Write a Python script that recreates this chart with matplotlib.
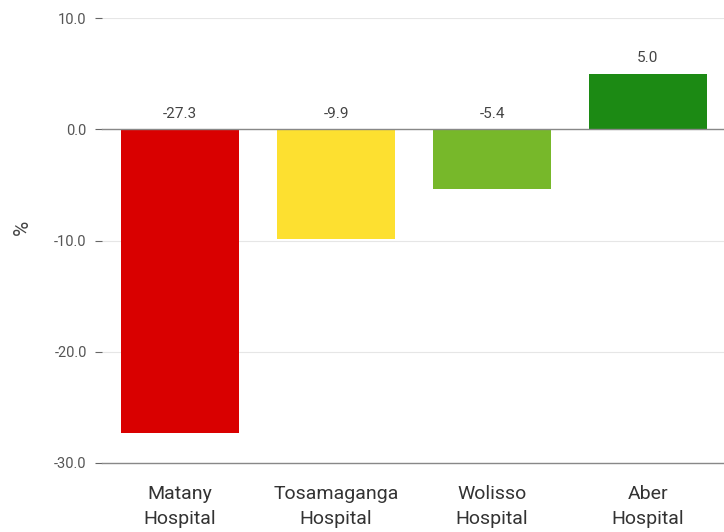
import numpy as np
import matplotlib.pyplot as plt

plt.rcParams["font.family"] = ["Roboto", "DejaVu Sans"]

hospitals = ["Matany\nHospital", "Tosamaganga\nHospital", "Wolisso\nHospital", "Aber\nHospital"]
values = [-27.3, -9.9, -5.4, 5.0]
colors = ["#d90000", "#fde030", "#77b82a", "#1c8a14"]
yticks = [10.0, 0.0, -10.0, -20.0, -30.0]

fig = plt.figure(figsize=(7.24, 5.32), dpi=100)
ax = fig.add_axes([102 / 724, 1 - 463 / 532, 624 / 724, (463 - 18) / 532])

x = np.arange(len(values))
ax.bar(x, values, width=0.756, color=colors, zorder=2)

for xi, v in zip(x, values):
    ax.annotate(f"{v:.1f}", (xi, max(v, 0)), xytext=(0, 6), textcoords="offset points",
                ha="center", va="bottom", fontsize=11, color="#444444")

ax.set_xlim(-0.5, 3.5)
ax.set_ylim(-30, 10)
ax.set_yticks(yticks)
ax.set_yticklabels([f"{t:.1f}" for t in yticks], fontsize=10.5, color="#555555")
ax.set_xticks(x)
ax.set_xticklabels(hospitals, fontsize=14, color="#333333", linespacing=1.45)
ax.tick_params(axis="x", length=0, pad=16)
ax.tick_params(axis="y", length=5, color="#666666", pad=6)

ax.grid(axis="y", color="#e6e6e6", linewidth=0.8, zorder=0)
ax.axhline(0, color="#888888", linewidth=1, zorder=3, clip_on=False)
for side in ["top", "right", "left"]:
    ax.spines[side].set_visible(False)
ax.spines["bottom"].set_color("#888888")
ax.spines["bottom"].set_linewidth(1)

ax.set_ylabel("%", fontsize=15, color="#444444")
ax.yaxis.set_label_coords(-0.112, 0.53)

fig.savefig("out.png", dpi=100)
